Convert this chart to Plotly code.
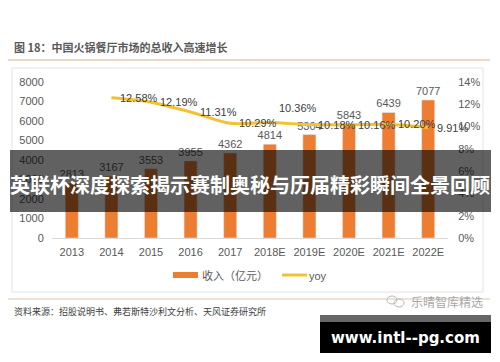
import plotly.graph_objects as go

# ---- data ----
categories = ["2013", "2014", "2015", "2016", "2017", "2018E", "2019E", "2020E", "2021E", "2022E"]
revenue = [2813, 3167, 3553, 3955, 4362, 4814, 5304, 5843, 6439, 7077]
yoy_categories = ["2014", "2015", "2016", "2017", "2018E", "2019E", "2020E", "2021E", "2022E"]
yoy = [0.1258, 0.1219, 0.1131, 0.1029, 0.1036, 0.1018, 0.1016, 0.1020, 0.0991]
yoy_labels = ["12.58%", "12.19%", "11.31%", "10.29%", "10.36%", "10.18%", "10.16%", "10.20%", "9.91%"]
left_ticks = [0, 1000, 2000, 3000, 4000, 5000, 6000, 7000, 8000]
right_ticks = [0, 0.02, 0.04, 0.06, 0.08, 0.10, 0.12, 0.14]
right_tick_text = ["0%", "2%", "4%", "6%", "8%", "10%", "12%", "14%"]

title_text = "图 18：中国火锅餐厅市场的总收入高速增长"
source_text = "资料来源：招股说明书、弗若斯特沙利文分析、天风证券研究所"
banner_text = "英联杯深度探索揭示赛制奥秘与历届精彩瞬间全景回顾"
site_text = "www.intl--pg.com"
watermark_text = "乐晴智库精选"

BAR = "#ED7D31"
LINE = "#F2C233"
GRAY = "#595959"
FONT = "Liberation Sans, Noto Sans CJK SC, sans-serif"
CJK = "Noto Sans CJK SC, sans-serif"
CLEAR = "rgba(0,0,0,0)"

OFF = 8  # default page body margin
W, H = 500 - OFF, 362 - OFF
L, R, T, B = 52, 448, 82, 238  # plot area in reference pixels


def px(x):
    return (x - L) / (R - L)


def py(y):
    return (B - y) / (B - T)


fig = go.Figure()
fig.add_trace(go.Bar(
    x=categories, y=revenue, marker_color=BAR, width=0.33,
    text=[str(v) for v in revenue], textposition="outside", constraintext="none",
    textfont=dict(size=11, color=GRAY, family=FONT), cliponaxis=False,
    name="收入（亿元）", yaxis="y",
))
fig.add_trace(go.Scatter(
    x=yoy_categories, y=yoy, mode="lines", line=dict(color=LINE, width=3, shape="spline", smoothing=0.8),
    name="yoy", yaxis="y2",
))

shapes = []
annotations = []

# yoy data labels (category axis -> use category index)
for c, v, t in zip(yoy_categories, yoy, yoy_labels):
    up = t == "10.36%"
    annotations.append(dict(x=categories.index(c), y=v, xref="x", yref="y2", text=t, showarrow=False,
                            xanchor="left", yanchor="middle", xshift=7,
                            yshift=15 if up else 0,
                            font=dict(size=11, color="#404040", family=FONT)))

# title and separator
annotations.append(dict(xref="paper", yref="paper", x=px(12), y=py(47), text="<b>" + title_text + "</b>",
                        showarrow=False, xanchor="left", yanchor="middle",
                        font=dict(size=11, color=GRAY, family=CJK)))
shapes.append(dict(type="line", xref="paper", yref="paper", x0=px(5), x1=px(490), y0=py(60), y1=py(60),
                   line=dict(color="#E8CDB5", width=1.5)))
# chart box
shapes.append(dict(type="rect", xref="paper", yref="paper", x0=px(12), x1=px(483), y0=py(68), y1=py(292),
                   line=dict(color="#E3E3E3", width=1), layer="below"))
# lower separator
shapes.append(dict(type="line", xref="paper", yref="paper", x0=px(5), x1=px(490), y0=py(299), y1=py(299),
                   line=dict(color="#E8D8C8", width=1.5)))

# legend (manual)
shapes.append(dict(type="rect", xref="paper", yref="paper", x0=px(173), x1=px(198), y0=py(272), y1=py(278),
                   fillcolor=BAR, line=dict(width=0)))
annotations.append(dict(xref="paper", yref="paper", x=px(200), y=py(275), text="收入（亿元）", showarrow=False,
                        xanchor="left", yanchor="middle", font=dict(size=11, color=GRAY, family=CJK)))
shapes.append(dict(type="line", xref="paper", yref="paper", x0=px(282), x1=px(307), y0=py(275), y1=py(275),
                   line=dict(color=LINE, width=3)))
annotations.append(dict(xref="paper", yref="paper", x=px(307), y=py(276), text="yoy", showarrow=False,
                        xanchor="left", yanchor="middle", font=dict(size=11, color=GRAY, family=FONT)))

# source
annotations.append(dict(xref="paper", yref="paper", x=px(12), y=py(311), text=source_text, showarrow=False,
                        xanchor="left", yanchor="middle", font=dict(size=9, color="#404040", family=CJK)))
# watermark
annotations.append(dict(xref="paper", yref="paper", x=px(409), y=py(301), text=watermark_text, showarrow=False,
                        xanchor="left", yanchor="middle", font=dict(size=12, color="#A8A8A8", family=CJK)))
shapes.append(dict(type="circle", xref="paper", yref="paper", x0=px(387), x1=px(397), y0=py(296), y1=py(304),
                   line=dict(color="#B8B8B8", width=1)))
shapes.append(dict(type="circle", xref="paper", yref="paper", x0=px(394), x1=px(404), y0=py(299), y1=py(307),
                   line=dict(color="#B8B8B8", width=1)))

# banner overlay
shapes.append(dict(type="rect", xref="paper", yref="paper", x0=px(10), x1=px(491), y0=py(150), y1=py(212),
                   fillcolor="rgba(0,0,0,0.62)", line=dict(width=0), layer="above"))
annotations.append(dict(xref="paper", yref="paper", x=px(250), y=py(184), text="<b>" + banner_text + "</b>",
                        showarrow=False, xanchor="center", yanchor="middle",
                        font=dict(size=20, color="white", family=CJK)))

# site box
shapes.append(dict(type="rect", xref="paper", yref="paper", x0=px(320), x1=px(491), y0=py(315), y1=py(353),
                   fillcolor="black", line=dict(width=0), layer="above"))
shapes.append(dict(type="rect", xref="paper", yref="paper", x0=px(320), x1=px(491), y0=py(315), y1=py(322),
                   fillcolor="#666666", line=dict(width=0), layer="above"))
annotations.append(dict(xref="paper", yref="paper", x=px(405), y=py(338), text="<b>" + site_text + "</b>",
                        showarrow=False, xanchor="center", yanchor="middle",
                        font=dict(size=15, color="white", family="DejaVu Sans, sans-serif")))

fig.update_layout(
    width=W, height=H,
    margin=dict(l=L - OFF, r=W - (R - OFF), t=T - OFF, b=H - (B - OFF), pad=0),
    paper_bgcolor="white", plot_bgcolor="white",
    showlegend=False, bargap=0.67,
    font=dict(family=FONT, color=GRAY, size=11),
    xaxis=dict(type="category", categoryorder="array", categoryarray=categories,
               range=[-0.5, len(categories) - 0.5],
               showgrid=False, showline=True, linecolor="#D9D9D9", linewidth=1,
               ticks="outside", ticklen=4, tickcolor=CLEAR,
               tickfont=dict(size=11, color=GRAY), zeroline=False),
    yaxis=dict(range=[0, 8000], tickvals=left_ticks, showgrid=False, zeroline=False,
               showline=False, ticks="outside", ticklen=5, tickcolor=CLEAR,
               tickfont=dict(size=11, color=GRAY)),
    yaxis2=dict(range=[0, 0.14], tickvals=right_ticks, ticktext=right_tick_text, overlaying="y",
                side="right", showgrid=False, zeroline=False, showline=False,
                ticks="outside", ticklen=7, tickcolor=CLEAR,
                tickfont=dict(size=11, color=GRAY)),
    shapes=shapes, annotations=annotations,
)

fig.write_html("out.html")
